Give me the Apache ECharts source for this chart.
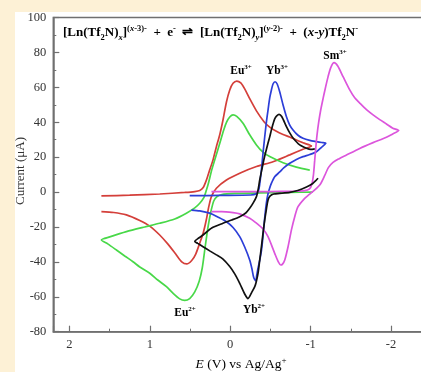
<!DOCTYPE html>
<html>
<head>
<meta charset="utf-8">
<script src="https://cdn.jsdelivr.net/npm/echarts@6/dist/echarts.min.js"></script>
<style>
  html, body { margin: 0; padding: 0; background: #fdf1d6; width: 421px; height: 372px; overflow: hidden; }
  #panel { position: absolute; left: 15px; top: 12px; width: 406px; height: 360px; background: #ffffff; }
  #chart { position: absolute; left: 0; top: 0; width: 421px; height: 372px; }
</style>
</head>
<body>
<div id="panel"></div>
<div id="chart"></div>
<script>
// Cyclic voltammograms: potential E (V vs Ag/Ag+) and current (µA) pairs, traced in scan order.
const eu3Red = [
  [1.602,-2.2],[1.25,-1.8],[0.876,-1.1],[0.566,-0.2],[0.441,0.3],[0.379,0.9],[0.336,2.6],
  [0.296,6.9],[0.255,12.7],[0.214,18.4],[0.172,26],[0.131,32.7],[0.090,41.3],[0.047,51.6],
  [0.006,58.5],[-0.035,62.3],[-0.081,63.6],[-0.131,62.5],[-0.180,59.1],[-0.242,53.5],
  [-0.326,46.5],[-0.420,40.3],[-0.491,37.2],[-0.574,34.8],[-0.657,33],[-0.740,31.5],
  [-0.823,29.8],[-0.905,28.2],[-1.010,26.4],
  [-0.905,24.5],[-0.740,21.3],[-0.532,17.4],[-0.326,14.6],[-0.118,10.8],[0.047,6.9],
  [0.172,2.2],[0.234,-2.6],[0.267,-8.5],[0.298,-16],[0.336,-23.4],[0.379,-29.2],
  [0.429,-35.5],[0.479,-39.2],[0.541,-41.2],[0.603,-40],[0.678,-35.5],[0.777,-29.7],
  [0.877,-24.6],[1.001,-19.5],[1.125,-16.3],[1.291,-13.1],[1.449,-11.7],[1.602,-11.2]
];
const eu2Green = [
  [-1.026,0],[-0.740,-0.2],[-0.367,-0.5],[-0.056,-0.8],[0.106,-1.4],[0.168,-2.8],
  [0.205,-5.1],[0.236,-10.3],[0.261,-16],[0.286,-22.9],[0.317,-33.2],[0.348,-43.5],
  [0.385,-50.9],[0.441,-57.2],[0.504,-61],[0.566,-62.1],[0.628,-61.2],[0.715,-57.8],
  [0.793,-54.2],[0.901,-50.4],[1.001,-46.5],[1.125,-42.9],[1.209,-39.9],[1.312,-36.6],
  [1.415,-33.2],[1.523,-29.7],[1.602,-27.4],
  [1.498,-25.7],[1.291,-22.7],[1.063,-20],[0.877,-17.9],[0.690,-15.4],[0.545,-12.1],
  [0.441,-9.1],[0.379,-6.4],[0.330,-3.4],[0.296,1.2],[0.267,5.8],[0.230,12.7],
  [0.193,18.4],[0.155,24.1],[0.118,29.8],[0.081,35.6],[0.044,40.2],[0.006,43],
  [-0.035,44.2],[-0.081,43.3],[-0.159,39.4],[-0.242,32.8],[-0.326,27],[-0.404,23],
  [-0.491,20.3],[-0.657,16.8],[-0.823,14.3],[-0.989,12.6]
];
const yb3Blue = [
  [0.504,-2.1],[0.131,-1.9],[-0.255,-1.7],[-0.317,-1.1],[-0.354,1.2],[-0.373,6.9],
  [-0.388,12.7],[-0.408,22.4],[-0.429,31.7],[-0.450,40.2],[-0.470,47],[-0.491,53.9],
  [-0.512,58.5],[-0.532,61.9],[-0.557,63.2],[-0.584,61.9],[-0.616,57.3],[-0.657,49.9],
  [-0.699,43.2],[-0.740,38.4],[-0.781,35.6],[-0.839,32.7],[-0.905,30.8],[-0.989,29.6],
  [-1.072,28.9],[-1.138,28.4],[-1.188,28],
  [-1.138,25.8],[-1.072,23.1],[-0.989,21.5],[-0.905,20.3],[-0.823,18.7],[-0.740,16.5],
  [-0.665,13.8],[-0.616,11.5],[-0.553,8.8],[-0.510,4.8],[-0.485,1.5],[-0.470,-1],
  [-0.452,-5.5],[-0.436,-11.5],[-0.420,-19],[-0.404,-27],[-0.388,-33.5],[-0.367,-39],
  [-0.346,-43.5],[-0.330,-47.5],[-0.317,-50.9],[-0.292,-49],[-0.270,-44],[-0.242,-38.9],
  [-0.180,-31.5],[-0.118,-25.5],[-0.035,-20.3],[0.047,-17],[0.155,-14.3],[0.255,-12.1],
  [0.379,-10.8],[0.482,-10.3]
];
const yb2Black = [
  [-1.092,7.9],[-1.072,6.9],[-1.026,4.9],[-0.948,2.9],[-0.839,0.9],[-0.740,-0.2],
  [-0.616,-0.8],[-0.541,-1.1],[-0.497,-2.2],[-0.470,-4.5],[-0.448,-10.3],[-0.429,-16],
  [-0.408,-23.4],[-0.388,-31.3],[-0.367,-38.9],[-0.346,-46.5],[-0.323,-51.5],
  [-0.305,-54.2],[-0.267,-57.5],[-0.221,-61],[-0.180,-58.4],[-0.118,-52.3],
  [-0.056,-46.9],[0.006,-42.7],[0.093,-38.3],[0.172,-36],[0.255,-33.7],[0.338,-31.3],
  [0.404,-29.4],[0.441,-28.3],
  [0.392,-26.3],[0.338,-24.6],[0.230,-20.6],[0.090,-17.9],[-0.019,-16],[-0.118,-14.1],
  [-0.193,-12],[-0.242,-9.3],[-0.286,-6.2],[-0.326,-2.6],[-0.346,1.2],[-0.367,6.9],
  [-0.392,12.7],[-0.423,19.5],[-0.448,24.1],[-0.470,28.1],[-0.491,31.6],[-0.512,35.6],
  [-0.532,39],[-0.553,41.9],[-0.578,43.6],[-0.607,44.5],[-0.640,43.3],[-0.699,37.5],
  [-0.740,33.9],[-0.781,31],[-0.864,27],[-0.948,25.1],[-1.001,24.4],[-1.051,24.7]
];
const sm3Magenta = [
  [0.234,0.2],[-0.118,0.2],[-0.491,0.3],[-0.802,0.5],[-0.926,0.8],[-0.985,1.8],
  [-1.015,4.5],[-1.035,10],[-1.050,18],[-1.065,26],[-1.080,33],[-1.100,40],[-1.125,47],
  [-1.154,53.5],[-1.185,60],[-1.216,66],[-1.250,71.3],[-1.291,74.1],[-1.337,72.2],
  [-1.403,66.1],[-1.486,58.5],[-1.548,54],[-1.610,51],[-1.694,47.2],[-1.776,44.2],
  [-1.859,41.5],[-1.942,39],[-2.021,36.6],[-2.095,35.2],
  [-2.021,33.3],[-1.942,31.4],[-1.776,28.3],[-1.610,25],[-1.445,21.2],[-1.350,19],
  [-1.278,17],[-1.220,14],[-1.175,9.5],[-1.120,4.5],[-1.051,1.2],[-0.980,-1.5],
  [-0.926,-3.6],[-0.843,-8.4],[-0.802,-14.1],[-0.761,-21.7],[-0.719,-31.3],
  [-0.678,-38.9],[-0.650,-41.3],[-0.628,-41.8],[-0.600,-40.2],[-0.553,-35.1],
  [-0.470,-25.6],[-0.408,-21.2],[-0.317,-17.5],[-0.242,-15],[-0.118,-12.5],
  [-0.035,-11.8],[0.106,-11.2],[0.234,-11.2]
];

const xTickLabels = ['2', '1', '0', '-1', '-2'];
const yTickLabels = ['-80', '-60', '-40', '-20', '0', '20', '40', '60', '80', '100'];

const SERIF = '"Liberation Serif", "Times New Roman", serif';
const AXIS_GRAY = '#707070';

const curves = [
  { name: 'Eu3+', data: eu3Red, color: '#d43f3a' },
  { name: 'Eu2+', data: eu2Green, color: '#48d848' },
  { name: 'Yb3+', data: yb3Blue, color: '#2c3ed8' },
  { name: 'Sm3+', data: sm3Magenta, color: '#dc55dc' },
  { name: 'Yb2+', data: yb2Black, color: '#111111' }
];

const chart = echarts.init(document.getElementById('chart'), null, { renderer: 'canvas' });

function fmtX(v) {
  const r = Math.round(v);
  if (Math.abs(v - r) > 1e-6) return '';
  const s = String(r);
  return xTickLabels.indexOf(s) >= 0 ? s : '';
}
function fmtY(v) {
  const s = String(Math.round(v));
  return yTickLabels.indexOf(s) >= 0 ? s : '';
}

const EQ_FS = 13, EQ_SS = 8.5;
const baseRich = {
  b: { fontFamily: SERIF, fontWeight: 'bold', fontSize: EQ_FS, lineHeight: 18, color: '#111' },
  bi: { fontFamily: SERIF, fontWeight: 'bold', fontStyle: 'italic', fontSize: EQ_FS, lineHeight: 18, color: '#111' },
  sub: { fontFamily: SERIF, fontWeight: 'bold', fontSize: EQ_SS, lineHeight: 9, verticalAlign: 'bottom', color: '#111' },
  subi: { fontFamily: SERIF, fontWeight: 'bold', fontStyle: 'italic', fontSize: EQ_SS, lineHeight: 9, verticalAlign: 'bottom', color: '#111' },
  sup: { fontFamily: SERIF, fontWeight: 'bold', fontSize: EQ_SS, lineHeight: 9, verticalAlign: 'top', color: '#111' },
  supi: { fontFamily: SERIF, fontWeight: 'bold', fontStyle: 'italic', fontSize: EQ_SS, lineHeight: 9, verticalAlign: 'top', color: '#111' }
};

function ionLabel(x, y, elem, charge, color) {
  return {
    type: 'text', x: x, y: y,
    style: {
      text: '{e|' + elem + '}{c|' + charge + '}',
      align: 'center', verticalAlign: 'middle',
      rich: {
        e: { fontFamily: SERIF, fontWeight: 'bold', fontSize: 11.5, lineHeight: 14, color: color },
        c: { fontFamily: SERIF, fontWeight: 'bold', fontSize: 7, lineHeight: 8, verticalAlign: 'top', color: color }
      }
    }
  };
}

const equation =
  '{b|[Ln(Tf}{sub|2}{b|N)}{subi|x}{b|]}{sup|(}{supi|x}{sup|-3)-}' +
  '{b|  +  e}{sup|-}{b|  \u21CC  [Ln(Tf}{sub|2}{b|N)}{subi|y}{b|]}{sup|(}{supi|y}{sup|-2)-}' +
  '{b|  +  (}{bi|x}{b|-}{bi|y}{b|)Tf}{sub|2}{b|N}{sup|-}';

const option = {
  animation: false,
  backgroundColor: 'transparent',
  grid: {
    left: 53.3, top: 17.5, width: 418.2, height: 314.2,
    containLabel: false, outerBoundsMode: 'none',
    show: true, borderColor: AXIS_GRAY, borderWidth: 1.5, backgroundColor: 'transparent'
  },
  xAxis: {
    type: 'value', inverse: true, min: -3, max: 2.2, interval: 1,
    splitLine: { show: false },
    axisLine: { show: true, onZero: false, lineStyle: { color: AXIS_GRAY, width: 1.5 } },
    axisTick: { show: true, inside: true, length: 6, lineStyle: { color: AXIS_GRAY, width: 1.2 } },
    minorTick: { show: true, splitNumber: 2, length: 3, lineStyle: { color: AXIS_GRAY, width: 1 } },
    axisLabel: { formatter: fmtX, margin: 7, fontFamily: SERIF, fontSize: 12.5, color: '#333' }
  },
  yAxis: {
    type: 'value', min: -80, max: 100, interval: 20,
    splitLine: { show: false },
    axisLine: { show: true, onZero: false, lineStyle: { color: AXIS_GRAY, width: 1.5 } },
    axisTick: { show: true, inside: true, length: 6, lineStyle: { color: AXIS_GRAY, width: 1.2 } },
    minorTick: { show: true, splitNumber: 2, length: 3, lineStyle: { color: AXIS_GRAY, width: 1 } },
    axisLabel: { formatter: fmtY, margin: 7, fontFamily: SERIF, fontSize: 12.5, color: '#333' }
  },
  series: curves.map(c => ({
    type: 'line', name: c.name, data: c.data,
    showSymbol: false, smooth: 0.25, clip: true,
    lineStyle: { color: c.color, width: 1.7 },
    itemStyle: { color: c.color },
    emphasis: { disabled: true }
  })),
  graphic: [
    {
      type: 'text', x: 63, y: 33,
      style: { text: equation, align: 'left', verticalAlign: 'middle', rich: baseRich }
    },
    ionLabel(241, 71, 'Eu', '3+', '#d43f3a'),
    ionLabel(277, 71, 'Yb', '3+', '#2c3ed8'),
    ionLabel(335, 56, 'Sm', '3+', '#dc55dc'),
    ionLabel(185, 313, 'Eu', '2+', '#48d848'),
    ionLabel(254, 310, 'Yb', '2+', '#111111'),
    {
      type: 'text', x: 241, y: 364,
      style: {
        text: '{i|E}{r| (V) vs Ag/Ag}{s|+}',
        align: 'center', verticalAlign: 'middle',
        rich: {
          i: { fontFamily: SERIF, fontStyle: 'italic', fontSize: 13.5, lineHeight: 16, color: '#333' },
          r: { fontFamily: SERIF, fontSize: 13.5, lineHeight: 16, color: '#333' },
          s: { fontFamily: SERIF, fontSize: 9, lineHeight: 9, verticalAlign: 'top', color: '#333' }
        }
      }
    },
    {
      type: 'text', x: 21, y: 171, rotation: Math.PI / 2,
      style: {
        text: 'Current (\u03BCA)', align: 'center', verticalAlign: 'middle',
        fontFamily: SERIF, fontSize: 13, fill: '#333'
      }
    }
  ]
};

chart.setOption(option);
</script>
</body>
</html>
